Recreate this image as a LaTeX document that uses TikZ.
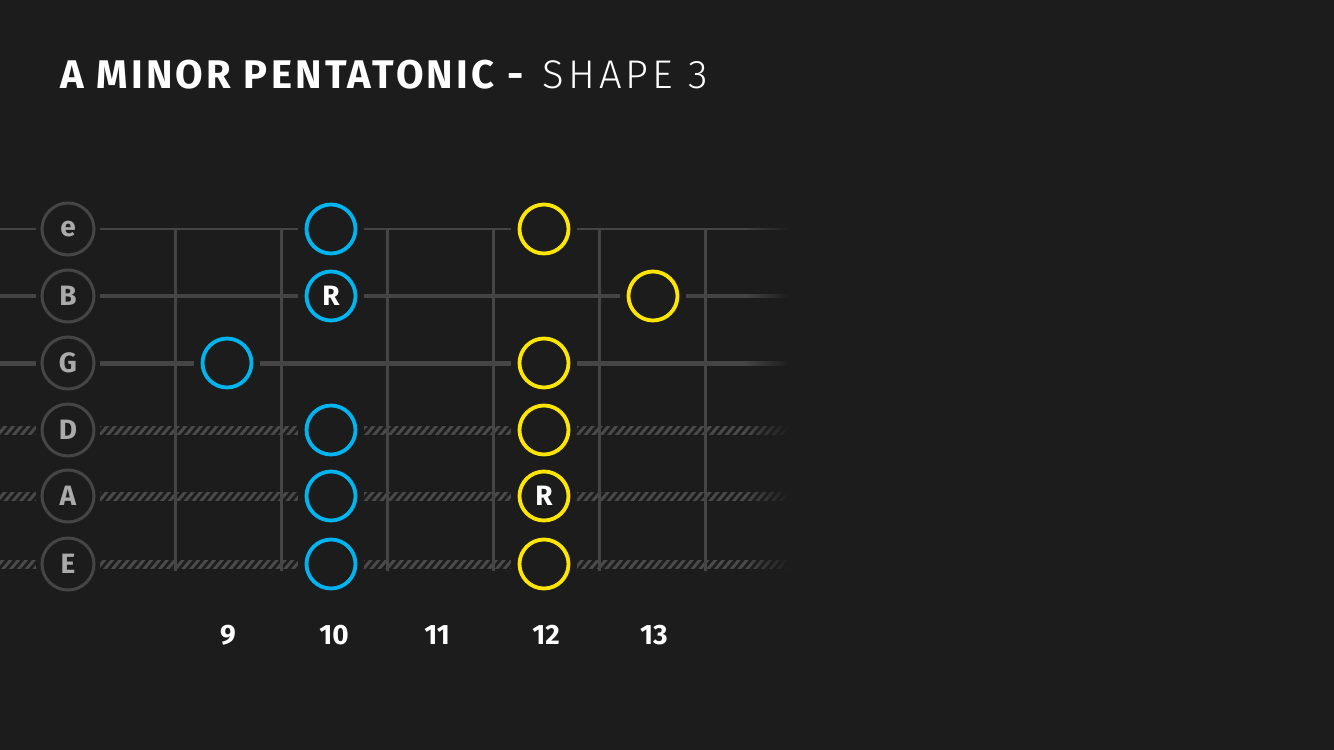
\documentclass[tikz,border=0pt]{standalone}
\usepackage{fontspec}
\setmainfont{Fira Sans}
\newfontfamily\lightfont{Fira Sans Light}
\usetikzlibrary{patterns.meta,fadings}
\definecolor{bg}{HTML}{1C1C1C}
\definecolor{line}{HTML}{454545}
\definecolor{hatch}{HTML}{4A4A4A}
\definecolor{lbl}{HTML}{AAAAAA}
\definecolor{nblue}{HTML}{00B4F0}
\definecolor{nyellow}{HTML}{FFE600}
\tikzset{
  lblcircle/.style={circle, draw=line, line width=3pt, fill=bg, minimum size=52pt, inner sep=0pt, text=lbl, font=\bfseries\fontsize{28}{28}\selectfont},
  notecircle/.style={circle, line width=3.8pt, fill=bg, minimum size=49pt, inner sep=0pt, text=white, font=\bfseries\fontsize{28}{28}\selectfont},
  bluenote/.style={notecircle, draw=nblue},
  yellownote/.style={notecircle, draw=nyellow},
  halo/.style={circle, fill=bg, minimum size=64pt, inner sep=0pt},
  fretnum/.style={text=white, font=\bfseries\fontsize{28}{28}\selectfont},
  fret/.style={line, line width=3pt},
  hatchstring/.style={pattern={Lines[angle=50, distance=6pt, line width=3pt]}, pattern color=hatch}
}
\begin{document}
\begin{tikzpicture}[x=1pt,y=-1pt]
\fill[bg] (0,0) rectangle (1334,750);
\useasboundingbox (0,0) rectangle (1334,750);
% title
\node[anchor=base west, text=white, inner sep=0pt] (title) at (60,88)
  {\fontsize{40}{40}\selectfont\addfontfeatures{LetterSpace=8}\bfseries A MINOR PENTATONIC -\ \,{\lightfont\mdseries\addfontfeatures{LetterSpace=10}SHAPE 3}};
% strings
\coordinate (se) at (0,229); \coordinate (seR) at (788,229);
\coordinate (sB) at (0,296); \coordinate (sBR) at (788,296);
\coordinate (sG) at (0,363); \coordinate (sGR) at (788,363);
\draw[line, line width=2.4pt] (se) -- (seR);
\draw[line, line width=3.6pt] (sB) -- (sBR);
\draw[line, line width=5pt] (sG) -- (sGR);
\fill[hatchstring] (0,426) rectangle (788,434);
\fill[hatchstring] (0,492) rectangle (788,500);
\fill[hatchstring] (0,560) rectangle (788,568);
% frets
\foreach \x/\n in {175/f1,281/f2,387/f3,493/f4,599/f5,705/f6}{
  \coordinate (\n t) at (\x,228);
  \coordinate (\n b) at (\x,571);
  \draw[fret] (\n t) -- (\n b);
}
% fade right ends
\fill[bg, path fading=west] (745,215) rectangle (790,580);
% string labels
\foreach \y/\s/\n in {229/e/le,296/B/lB,363/G/lG,430/D/lD,496/A/lA,564/E/lE}{
  \node[halo] at (68,\y) {};
  \node[lblcircle] (\n) at (68,\y) {\s};
}
% notes
\foreach \x/\y/\t/\st/\n in {331/229//bluenote/n1, 331/296/R/bluenote/n2, 227/363//bluenote/n3, 331/430//bluenote/n4, 331/496//bluenote/n5, 331/564//bluenote/n6,
  544/229//yellownote/n7, 653/296//yellownote/n8, 544/363//yellownote/n9, 544/430//yellownote/n10, 544/496/R/yellownote/n11, 544/564//yellownote/n12}{
  \node[halo, minimum size=66pt] at (\x,\y) {};
  \node[\st] (\n) at (\x,\y) {\t};
}
% fret numbers
\node[fretnum] (k9) at (228,635) {9};
\node[fretnum] (k10) at (334,635) {10};
\node[fretnum] (k11) at (437,635) {11};
\node[fretnum] (k12) at (546,635) {12};
\node[fretnum] (k13) at (654,635) {13};
\end{tikzpicture}
\end{document}
